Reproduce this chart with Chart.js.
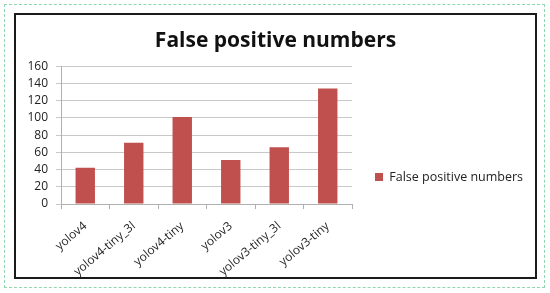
<!DOCTYPE html>
<html>
<head>
<meta charset="utf-8">
<script src="https://cdn.jsdelivr.net/npm/chart.js@4.4.0/dist/chart.umd.min.js"></script>
<style>
  html, body { margin: 0; padding: 0; background: #fff; }
  body { width: 550px; height: 293px; position: relative; overflow: hidden; }
  .outer {
    position: absolute; left: 4px; top: 4px; width: 539px; height: 282px;
    border: 1px dashed #8fd6ae;
  }
  .frame {
    position: absolute; left: 14px; top: 13px; width: 519px; height: 262px;
    border: 2px solid #1a1a1a; background: #fff;
  }
  canvas { display: block; }
</style>
</head>
<body>
<div class="outer"></div>
<div class="frame">
  <canvas id="chart" width="519" height="262"></canvas>
</div>
<script>
// chart values
const categories = ['yolov4', 'yolov4-tiny_3l', 'yolov4-tiny', 'yolov3', 'yolov3-tiny_3l', 'yolov3-tiny'];
const falsePositives = [42, 71, 101, 51, 66, 134];
const seriesName = 'False positive numbers';
const yTicks = [0, 20, 40, 60, 80, 100, 120, 140, 160];

const FONT = '"Open Sans", Lato, sans-serif';

// the layout caps a right legend at a quarter of the width, so force the width we want,
// and drop the legend a bit lower than plain centring
const legendTweak = {
    id: 'legendTweak',
    beforeLayout(chart) {
        const lg = chart.legend;
        if (lg && !lg._wPatched) {
            const fit = lg.fit.bind(lg);
            lg.fit = function () { fit(); this.width = 183; };
            lg._wPatched = true;
        }
    },
    afterLayout(chart) {
        const lg = chart.legend;
        if (lg) { lg.top += 31; lg.bottom += 31; }
    },
};

const ctx = document.getElementById('chart').getContext('2d');
const chart = new Chart(ctx, {
    type: 'bar',
    data: {
        labels: categories,
        datasets: [{
            label: seriesName,
            data: falsePositives,
            backgroundColor: '#c0504d',
            borderWidth: 0,
            categoryPercentage: 1.0,
            barPercentage: 0.4,
        }],
    },
    plugins: [legendTweak],
    options: {
        responsive: false,
        animation: false,
        devicePixelRatio: 1,
        plugins: {
            title: {
                display: true,
                text: 'False positive numbers',
                color: '#111',
                font: { family: FONT, size: 21, weight: 'bold' },
                padding: { top: 13, bottom: 13 },
            },
            legend: {
                position: 'right',
                labels: {
                    boxWidth: 8,
                    boxHeight: 8,
                    padding: 23,
                    color: '#222',
                    font: { family: FONT, size: 12.5 },
                },
            },
            tooltip: { enabled: false },
        },
        scales: {
            y: {
                min: 0,
                max: 160,
                afterBuildTicks: (axis) => { axis.ticks = yTicks.map(v => ({ value: v })); },
                afterFit: (axis) => { axis.width = 45; },
                ticks: { color: '#222', font: { family: FONT, size: 12 }, padding: 8, autoSkip: false },
                grid: { color: '#c8c8c8', tickLength: 5, tickColor: '#c8c8c8' },
                border: { color: '#b0b0b0' },
            },
            x: {
                afterFit: (axis) => { axis.height = 73; },
                ticks: {
                    color: '#222',
                    font: { family: FONT, size: 12 },
                    minRotation: 40,
                    maxRotation: 40,
                    padding: 10,
                    autoSkip: false,
                },
                grid: { offset: true, drawOnChartArea: false, tickLength: 5, color: '#b0b0b0' },
                border: { color: '#b0b0b0' },
            },
        },
    },
});
</script>
</body>
</html>
